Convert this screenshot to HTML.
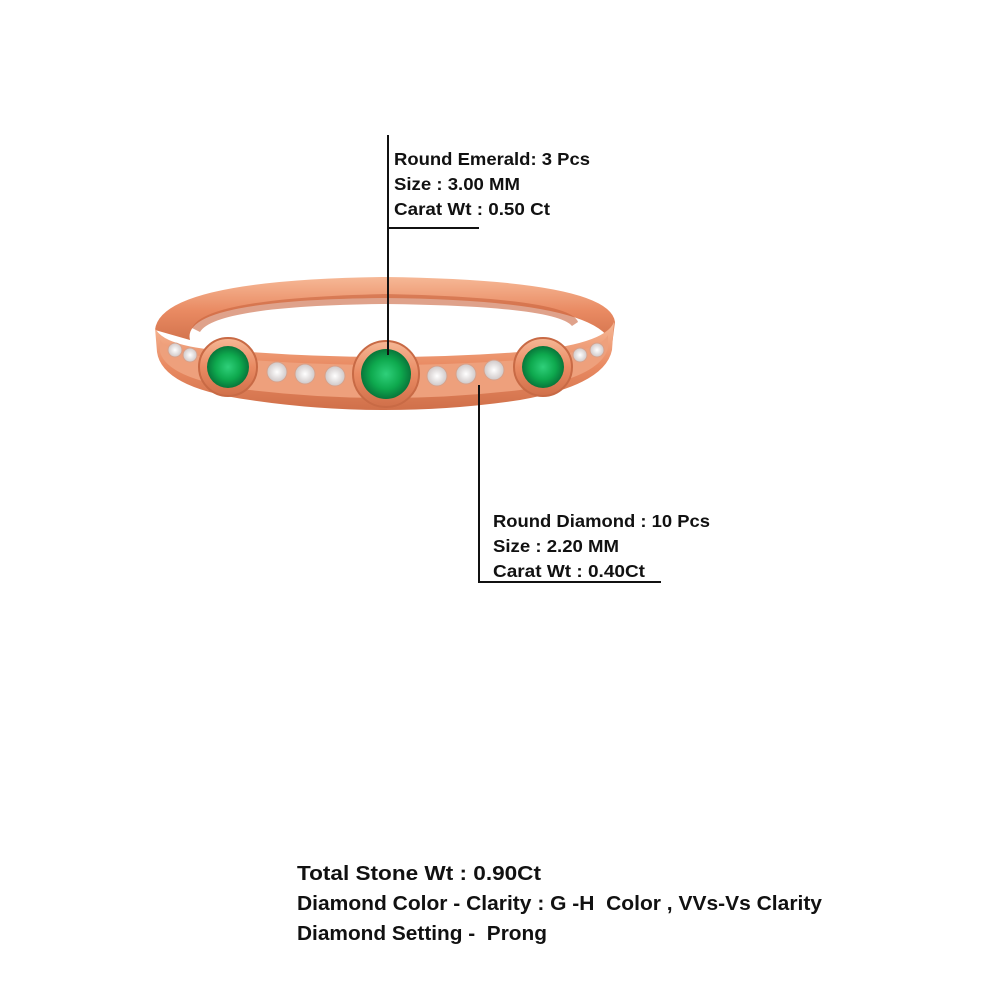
<!DOCTYPE html>
<html><head><style>
body{margin:0;background:#fff;}
svg{display:block}
text{font-family:"Liberation Sans",Arial,sans-serif;font-weight:bold;fill:#111;}
</style></head><body>
<svg width="1000" height="1000" viewBox="0 0 1000 1000">
<defs>
<linearGradient id="g" x1="0" y1="0" x2="0" y2="1">
<stop offset="0" stop-color="#f6b896"/><stop offset="0.5" stop-color="#e98a62"/><stop offset="1" stop-color="#d0704a"/>
</linearGradient>
<radialGradient id="em" cx="0.5" cy="0.5" r="0.5">
<stop offset="0" stop-color="#2fd07a"/><stop offset="0.6" stop-color="#0ea94e"/><stop offset="1" stop-color="#08763a"/>
</radialGradient>
<radialGradient id="di" cx="0.5" cy="0.5" r="0.5">
<stop offset="0" stop-color="#fff"/><stop offset="1" stop-color="#cfc8c8"/>
</radialGradient>
</defs>
<!-- ring band back -->
<path d="M155,330 Q160,280 385,277 Q610,280 615,322 L612,345 Q600,300 385,298 Q180,300 190,340 Z" fill="url(#g)"/>
<path d="M192,328 Q205,298 385,294 Q570,298 578,322 L572,326 Q555,306 385,304 Q215,306 200,332 Z" fill="#c9643e" opacity="0.6"/>
<!-- front band -->
<path d="M155,328 Q165,350 250,352 Q385,362 520,352 Q605,345 614,322 L612,350 Q605,385 520,400 Q385,420 250,400 Q162,388 157,352 Z" fill="url(#g)"/>
<path d="M160,340 Q172,358 250,360 Q385,370 520,360 Q600,352 608,335 L608,348 Q600,378 520,390 Q385,406 250,390 Q168,380 160,352 Z" fill="#eea07c"/>
<!-- diamonds -->
<g fill="url(#di)" stroke="#d9a088" stroke-width="1">
<circle cx="175" cy="350" r="7"/><circle cx="190" cy="355" r="7"/>
<circle cx="277" cy="372" r="10"/><circle cx="305" cy="374" r="10"/><circle cx="335" cy="376" r="10"/>
<circle cx="437" cy="376" r="10"/><circle cx="466" cy="374" r="10"/><circle cx="494" cy="370" r="10"/>
<circle cx="580" cy="355" r="7"/><circle cx="597" cy="350" r="7"/>
</g>
<!-- bezels -->
<circle cx="228" cy="367" r="29" fill="url(#g)" stroke="#c86a45" stroke-width="2"/>
<circle cx="228" cy="367" r="21" fill="url(#em)"/>
<circle cx="386" cy="374" r="33" fill="url(#g)" stroke="#c86a45" stroke-width="2"/>
<circle cx="386" cy="374" r="25" fill="url(#em)"/>
<circle cx="543" cy="367" r="29" fill="url(#g)" stroke="#c86a45" stroke-width="2"/>
<circle cx="543" cy="367" r="21" fill="url(#em)"/>
<!-- leader lines -->
<g stroke="#111" stroke-width="2" fill="none">
<path d="M388,135 V355 M388,228 H479"/>
<path d="M479,385 V582 H661"/>
</g>
<g font-size="17.5">
<text x="394" y="165" textLength="196" lengthAdjust="spacingAndGlyphs">Round Emerald: 3 Pcs</text>
<text x="394" y="190" textLength="126" lengthAdjust="spacingAndGlyphs">Size : 3.00 MM</text>
<text x="394" y="215" textLength="156" lengthAdjust="spacingAndGlyphs">Carat Wt : 0.50 Ct</text>
<text x="493" y="527" textLength="217" lengthAdjust="spacingAndGlyphs">Round Diamond : 10 Pcs</text>
<text x="493" y="552" textLength="126" lengthAdjust="spacingAndGlyphs">Size : 2.20 MM</text>
<text x="493" y="577" textLength="152" lengthAdjust="spacingAndGlyphs">Carat Wt : 0.40Ct</text>
</g>
<g font-size="20">
<text x="297" y="880" textLength="244" lengthAdjust="spacingAndGlyphs">Total Stone Wt : 0.90Ct</text>
<text x="297" y="910" xml:space="preserve" textLength="525" lengthAdjust="spacingAndGlyphs">Diamond Color - Clarity : G -H  Color , VVs-Vs Clarity</text>
<text x="297" y="940" xml:space="preserve" textLength="250" lengthAdjust="spacingAndGlyphs">Diamond Setting -  Prong</text>
</g>
</svg>
</body></html>
